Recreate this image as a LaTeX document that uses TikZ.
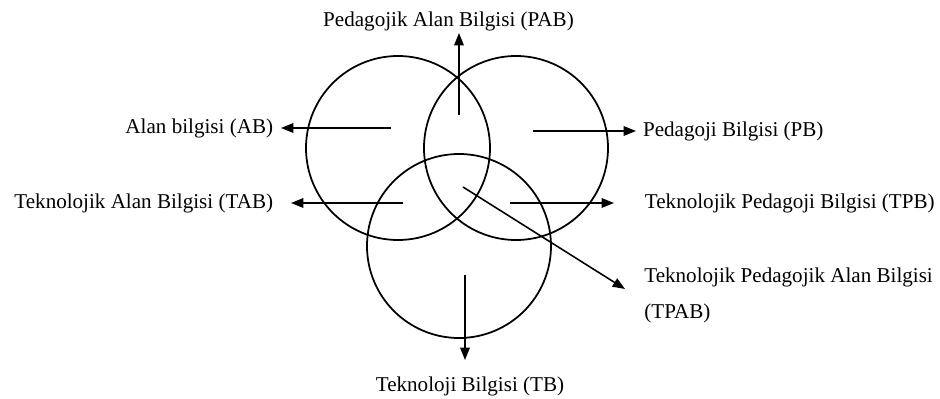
\documentclass[tikz,border=0pt]{standalone}
\usepackage{fontspec}
\setmainfont{Liberation Serif}
\usetikzlibrary{arrows.meta}

\begin{document}
\begin{tikzpicture}[scale=0.2,
  lbl/.style={inner sep=0pt, font=\fontsize{12}{20}\selectfont},
  arr/.style={-{Triangle[length=7pt,width=5.4pt]}, line width=0.9pt}]
\tikzstyle{every node}+=[inner sep=0pt]
\useasboundingbox (0,0) rectangle (94,-39.9);
\draw [black, line width=1pt] (39.8,-14.8) circle (9.2);
\draw [black, line width=1pt] (51.6,-14.8) circle (9.2);
\draw [black, line width=1pt] (45.9,-24.6) circle (9.2);
\node [lbl, anchor=south, outer sep=1pt] (PAB) at (44.85,-3.3) {Pedagojik Alan Bilgisi (PAB)};
\node [lbl, anchor=east, outer sep=4.5pt] (AB) at (28.1,-12.8) {Alan bilgisi (AB)};
\node [lbl, anchor=west, outer sep=4pt] (PB) at (63.6,-13.1) {Pedagoji Bilgisi (PB)};
\node [lbl, anchor=east, outer sep=10.2pt] (TAB) at (29.1,-20.3) {Teknolojik Alan Bilgisi (TAB)};
\node [lbl, anchor=west, outer sep=17.6pt] (TPB) at (61.4,-20.3) {Teknolojik Pedagoji Bilgisi (TPB)};
\node [lbl, anchor=north west, align=left] (TPAB) at (64.4,-26.8) {Teknolojik Pedagojik Alan Bilgisi\\(TPAB)};
\node [lbl, anchor=north, outer sep=9.8pt] (TB) at (47.0,-36.0) {Teknoloji Bilgisi (TB)};
\coordinate (pabs) at (45.9,-11.5);
\coordinate (abs) at (39.1,-12.8);
\coordinate (pbs) at (53.3,-13.1);
\coordinate (tabs) at (40.3,-20.3);
\coordinate (tpbs) at (51.0,-20.3);
\coordinate (tpabs) at (46.3,-18.7);
\coordinate (tpabt) at (62.5,-28.9);
\coordinate (tbs) at (46.5,-27.5);
\draw [arr] (pabs) -- (pabs |- PAB.south);
\draw [arr] (abs) -- (AB);
\draw [arr] (pbs) -- (PB);
\draw [arr] (tabs) -- (TAB);
\draw [arr] (tpbs) -- (TPB);
\draw [arr] (tpabs) -- (tpabt);
\draw [arr] (tbs) -- (tbs |- TB.north);
\end{tikzpicture}
\end{document}
